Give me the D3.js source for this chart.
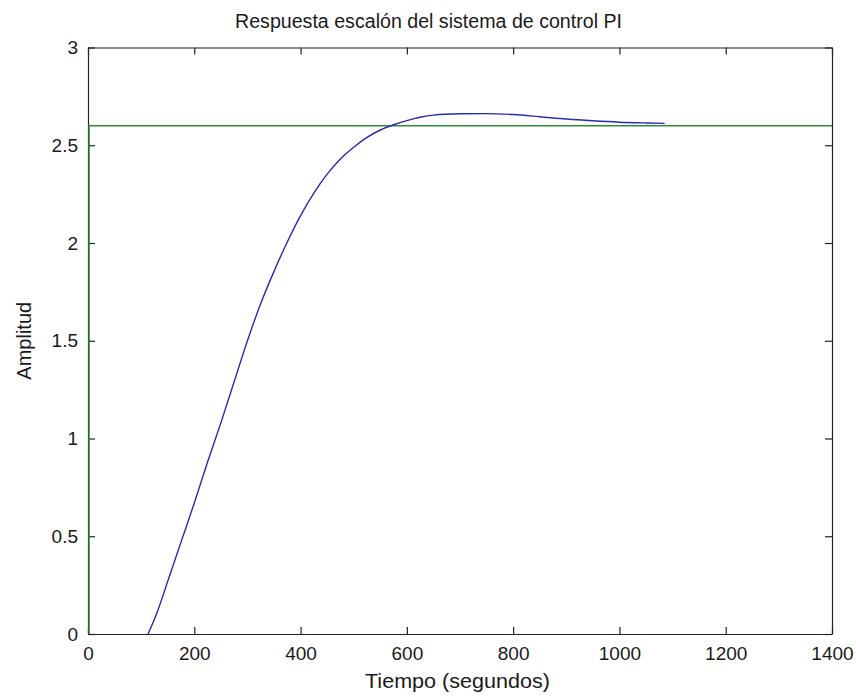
<!DOCTYPE html>
<html>
<head>
<meta charset="utf-8">
<script src="https://cdn.jsdelivr.net/npm/d3@7"></script>
<style>
  html, body { margin: 0; padding: 0; background: #fff; }
  svg { display: block; }
  text { font-family: "Liberation Sans", Arial, sans-serif; fill: #1a1a1a; }
</style>
</head>
<body>
<svg id="chart" width="856" height="697"></svg>
<script>
// Step response of the PI-controlled system
const timeS = [113, 130, 150, 175, 200, 225, 250, 275, 300, 325, 350, 375, 400, 425, 450,
               475, 500, 525, 550, 575, 600, 625, 650, 700, 750, 800, 850, 900, 950, 1000,
               1050, 1085];
const amplitude = [0, 0.11, 0.27, 0.47, 0.67, 0.88, 1.08, 1.29, 1.50, 1.69, 1.855, 2.005, 2.14,
                   2.255, 2.352, 2.43, 2.49, 2.54, 2.578, 2.605, 2.626, 2.643, 2.654, 2.661,
                   2.662, 2.657, 2.646, 2.634, 2.625, 2.618, 2.614, 2.612];

// Reference step (first sample just after t = 0)
const stepTime = [2, 2, 1400];
const stepValue = [0, 2.6, 2.6];

const xTicks = [0, 200, 400, 600, 800, 1000, 1200, 1400];
const yTicks = [0, 0.5, 1, 1.5, 2, 2.5, 3];

const titleText = "Respuesta escalón del sistema de control PI";
const xLabelText = "Tiempo (segundos)";
const yLabelText = "Amplitud";

const svg = d3.select("#chart");
const plot = { left: 88, right: 832, top: 47.5, bottom: 634 };

const x = d3.scaleLinear().domain([0, 1400]).range([plot.left, plot.right]);
const y = d3.scaleLinear().domain([0, 3]).range([plot.bottom, plot.top]);

const axisColor = "#222";
const tickLen = 7;

// Axes with inward ticks on all four sides
function styleAxis(g) {
  g.selectAll("path.domain").attr("stroke", axisColor).attr("stroke-width", 1.2);
  g.selectAll(".tick line").attr("stroke", axisColor).attr("stroke-width", 1.2);
  g.selectAll(".tick text").style("font-size", "19px").attr("fill", "#1a1a1a");
}

svg.append("g")
  .attr("transform", `translate(0,${plot.bottom})`)
  .call(d3.axisBottom(x).tickValues(xTicks).tickFormat(d3.format("d"))
        .tickSizeInner(-tickLen).tickSizeOuter(0).tickPadding(13))
  .call(styleAxis)
  .call(g => g.selectAll(".tick text").attr("dy", "0.71em"));

svg.append("g")
  .attr("transform", `translate(${plot.left},0)`)
  .call(d3.axisLeft(y).tickValues(yTicks).tickFormat(d => String(d))
        .tickSizeInner(-tickLen).tickSizeOuter(0).tickPadding(10))
  .call(styleAxis);

svg.append("g")
  .attr("transform", `translate(0,${plot.top})`)
  .call(d3.axisTop(x).tickValues(xTicks).tickFormat("")
        .tickSizeInner(-tickLen).tickSizeOuter(0))
  .call(styleAxis);

svg.append("g")
  .attr("transform", `translate(${plot.right},0)`)
  .call(d3.axisRight(y).tickValues(yTicks).tickFormat("")
        .tickSizeInner(-tickLen).tickSizeOuter(0))
  .call(styleAxis);

// Data lines
const stepLine = d3.line().x(d => x(d[0])).y(d => y(d[1]));
const respLine = d3.line().x(d => x(d[0])).y(d => y(d[1])).curve(d3.curveMonotoneX);

svg.append("path")
  .datum(stepTime.map((t, i) => [t, stepValue[i]]))
  .attr("d", stepLine)
  .attr("fill", "none")
  .attr("stroke", "#2e8c38")
  .attr("stroke-width", 1.4);

svg.append("path")
  .datum(timeS.map((t, i) => [t, amplitude[i]]))
  .attr("d", respLine)
  .attr("fill", "none")
  .attr("stroke", "#2a2ab2")
  .attr("stroke-width", 1.4);

// Title and axis labels
svg.append("text")
  .attr("x", 235).attr("y", 28)
  .attr("textLength", 387).attr("lengthAdjust", "spacingAndGlyphs")
  .style("font-size", "20px")
  .text(titleText);

svg.append("text")
  .attr("x", 365).attr("y", 688)
  .attr("textLength", 185).attr("lengthAdjust", "spacingAndGlyphs")
  .style("font-size", "21px")
  .text(xLabelText);

svg.append("text")
  .attr("transform", `translate(31,${(plot.top + plot.bottom) / 2}) rotate(-90)`)
  .attr("text-anchor", "middle")
  .style("font-size", "20px")
  .text(yLabelText);
</script>
</body>
</html>
